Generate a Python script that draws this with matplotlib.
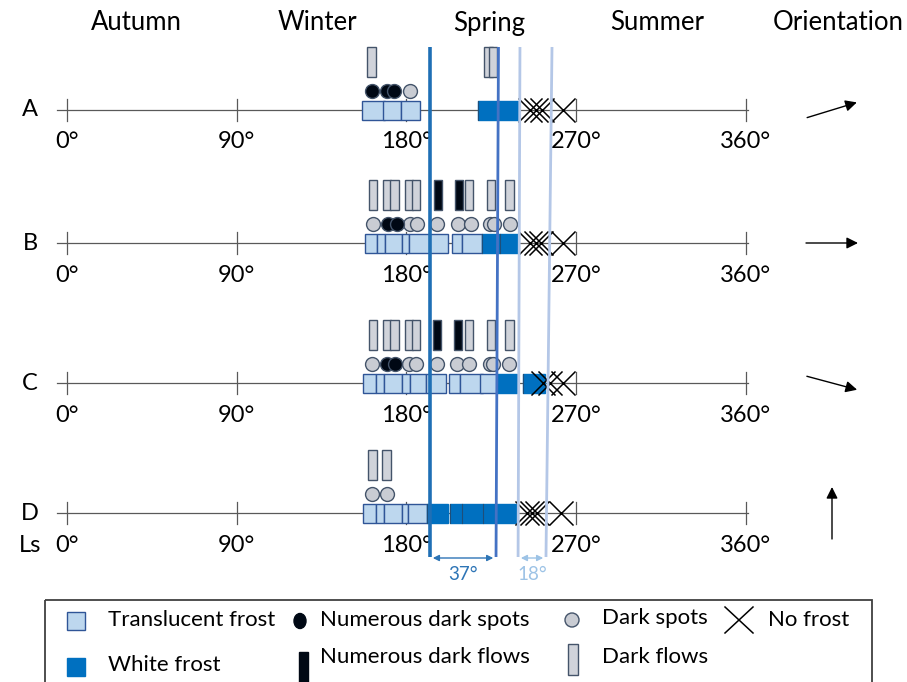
import numpy as np
import matplotlib.pyplot as plt
from matplotlib.patches import Rectangle, Ellipse

plt.rcParams['font.family'] = ['Lato', 'DejaVu Sans']

# ---------------- DATA (solar longitude Ls, degrees) ----------------
rows = ["A", "B", "C", "D"]
seasons = ["Autumn", "Winter", "Spring", "Summer", "Orientation"]
season_ls = [37, 133, 224, 313, 409]
ticks = [0, 90, 180, 270, 360]
tick_labels = ["0°", "90°", "180°", "270°", "360°"]

translucent = [
    [(156.5, 168.7), (167.6, 177.2), (177.2, 187.3)],
    [(158.1, 164.5), (164.5, 168.7), (168.7, 177.7), (177.7, 181.4), (181.4, 202.1),
     (204.2, 209.5), (209.5, 220.2)],
    [(157.0, 163.9), (163.9, 168.2), (168.2, 177.7), (177.7, 182.0), (182.0, 190.5),
     (190.5, 201.1), (202.7, 208.5), (208.5, 220.7), (219.1, 228.1)],
    [(157.0, 163.9), (163.9, 168.2), (168.2, 177.7), (177.7, 180.9), (180.9, 191.0)],
]
white = [
    [(218.0, 239.3)],
    [(220.2, 229.7), (229.7, 239.3)],
    [(228.1, 238.7), (241.9, 253.6)],
    [(191.0, 202.1), (203.2, 209.5), (209.5, 220.7), (220.7, 227.1), (227.1, 238.2)],
]
no_frost = [
    [245.6, 248.8, 252.0, 263.1],
    [245.6, 248.8, 251.5, 263.1],
    [252.5, 256.2, 263.1],
    [244.0, 246.7, 249.3, 262.1],
]
dark_spots = [
    [182.0],
    [162.3, 182.0, 185.7, 196.3, 207.4, 214.3, 224.4, 226.5, 235.0],
    [161.8, 181.4, 185.1, 196.3, 206.9, 213.3, 224.4, 226.0, 234.5],
    [161.8, 169.8],
]
num_dark_spots = [
    [161.8, 169.8, 173.5],
    [170.3, 175.1],
    [169.8, 174.0],
    [],
]
dark_flows = [
    [161.5, 223.6, 226.0],
    [162.3, 169.8, 173.7, 181.4, 185.1, 213.3, 224.9, 234.7],
    [162.3, 169.8, 173.7, 181.4, 185.1, 213.3, 224.9, 234.7],
    [162.1, 169.5],
]
num_dark_flows = [
    [],
    [196.8, 208.0],
    [196.3, 207.4],
    [],
]
orientation = [17, 0, -15, 90]          # arrow direction, degrees

# reference lines: (Ls at top, Ls at bottom)
ref_lines = [(192.6, 192.6), (228.9, 227.6), (240.3, 239.3), (257.3, 254.1)]
spans = ["37°", "18°"]
# ---------------------------------------------------------------------

# layout (pixels)
PX0, PXDEG = 67, 1.885
row_y = [110, 243, 383, 513]
C_TRANS, C_TRANS_E = "#bdd7ee", "#2f5597"
C_WHITE, C_WHITE_E = "#0070c0", "#1f4e79"
C_GREY, C_GREY_E = "#d0d3da", "#44546a"
C_BLACK = "#000814"
LINE_COLORS = ["#1f6fb5", "#4472c4", "#b4c7e7", "#b4c7e7"]
LINE_WIDTHS = [2.6, 2.0, 2.0, 2.0]


def deg(px):
    return (px - PX0) / PXDEG


fig = plt.figure(figsize=(9.07, 6.82), dpi=100)
ax = fig.add_axes([0, 0, 1, 1])
ax.set_xlim(deg(0), deg(907))
ax.set_ylim(682, 0)
ax.axis("off")

# season titles
for name, ls in zip(seasons, season_ls):
    ax.text(ls, 23, name, ha="center", va="center", fontsize=18.5)

fw = 8.5 / PXDEG  # flow rectangle width in degrees
for i, y in enumerate(row_y):
    ax.text(deg(30), y, rows[i], ha="center", va="center", fontsize=17)
    ax.plot([deg(57), deg(748)], [y, y], color="#595959", lw=0.9, zorder=1)
    for t, lab in zip(ticks, tick_labels):
        ax.plot([t, t], [y - 11, y + 11], color="#595959", lw=0.9, zorder=1)
        ax.text(t, y + 32, lab, ha="center", va="center", fontsize=17)

    for a, b in translucent[i]:
        ax.add_patch(Rectangle((a, y - 9.5), b - a, 19, facecolor=C_TRANS,
                               edgecolor=C_TRANS_E, lw=1.0, zorder=2))
    for a, b in white[i]:
        ax.add_patch(Rectangle((a, y - 9.5), b - a, 19, facecolor=C_WHITE,
                               edgecolor=C_WHITE, lw=1.0, zorder=2))
        ax.plot([a, a], [y - 9.5, y + 9.5], color=C_WHITE_E, lw=0.8, zorder=2)

    ax.scatter(no_frost[i], [y] * len(no_frost[i]), marker="x", s=300,
               color="black", lw=1.1, zorder=4)

    ax.scatter(dark_spots[i], [y - 19] * len(dark_spots[i]), s=100,
               facecolor="#c9ccd3", edgecolor=C_GREY_E, lw=1.0, zorder=3)
    ax.scatter(num_dark_spots[i], [y - 19] * len(num_dark_spots[i]), s=100,
               facecolor=C_BLACK, edgecolor=C_GREY_E, lw=1.0, zorder=3)

    for x in dark_flows[i]:
        ax.add_patch(Rectangle((x - fw / 2, y - 63), fw, 30, facecolor=C_GREY,
                               edgecolor=C_GREY_E, lw=1.0, zorder=3))
    for x in num_dark_flows[i]:
        ax.add_patch(Rectangle((x - fw / 2, y - 63), fw, 30, facecolor=C_BLACK,
                               edgecolor=C_GREY_E, lw=1.0, zorder=3))

    # orientation arrow
    th = np.radians(orientation[i])
    L = 52
    dx, dy = L * np.cos(th) / 2 / PXDEG, -L * np.sin(th) / 2
    cx = deg(832)
    ax.annotate("", xy=(cx + dx, y + dy), xytext=(cx - dx, y - dy),
                arrowprops=dict(arrowstyle="-|>", color="black", lw=1.0,
                                mutation_scale=17, shrinkA=0, shrinkB=0))

ax.text(deg(30), 545, "Ls", ha="center", va="center", fontsize=17)

# reference lines
for (top, bot), c, w in zip(ref_lines, LINE_COLORS, LINE_WIDTHS):
    ax.plot([top, bot], [47, 557], color=c, lw=w, zorder=5, solid_capstyle="butt")

# span arrows
span_cols = ["#2e75b6", "#9dc3e6"]
for k, lab in enumerate(spans):
    a = ref_lines[2 * k][1]
    b = ref_lines[2 * k + 1][1]
    ax.annotate("", xy=(b, 558), xytext=(a, 558),
                arrowprops=dict(arrowstyle="<|-|>", color=span_cols[k], lw=1.0,
                                mutation_scale=9, shrinkA=2, shrinkB=2))
    ax.text((a + b) / 2, 575, lab, ha="center", va="center", fontsize=13.5,
            color=span_cols[k])

# ---------------- legend (drawn in pixel space) ----------------
lax = fig.add_axes([0, 0, 1, 1])
lax.set_xlim(0, 907)
lax.set_ylim(682, 0)
lax.axis("off")
lax.add_patch(Rectangle((45, 600), 827, 100, facecolor="none",
                        edgecolor="#404040", lw=1.3))
lax.add_patch(Rectangle((67, 612), 18, 18, facecolor=C_TRANS, edgecolor=C_TRANS_E, lw=1))
lax.add_patch(Rectangle((67, 658), 18, 18, facecolor=C_WHITE, edgecolor=C_WHITE, lw=1))
lax.add_patch(Ellipse((300, 621), 12, 15, facecolor=C_BLACK, edgecolor=C_BLACK))
lax.add_patch(Rectangle((299, 652), 9, 35, facecolor=C_BLACK, edgecolor=C_BLACK))
lax.add_patch(Ellipse((572, 620), 14, 14, facecolor="#c9ccd3", edgecolor=C_GREY_E, lw=1))
lax.add_patch(Rectangle((568, 644), 10, 31, facecolor=C_GREY, edgecolor=C_GREY_E, lw=1))
lax.plot([725, 753], [607, 633], color="black", lw=1.1)
lax.plot([725, 753], [633, 607], color="black", lw=1.1)

leg_fs = 16
lax.text(108, 620, "Translucent frost", va="center", fontsize=leg_fs)
lax.text(108, 665, "White frost", va="center", fontsize=leg_fs)
lax.text(320, 620, "Numerous dark spots", va="center", fontsize=leg_fs)
lax.text(320, 657, "Numerous dark flows", va="center", fontsize=leg_fs)
lax.text(602, 618, "Dark spots", va="center", fontsize=leg_fs)
lax.text(602, 657, "Dark flows", va="center", fontsize=leg_fs)
lax.text(768, 620, "No frost", va="center", fontsize=leg_fs)

fig.savefig("out.png", dpi=100)
